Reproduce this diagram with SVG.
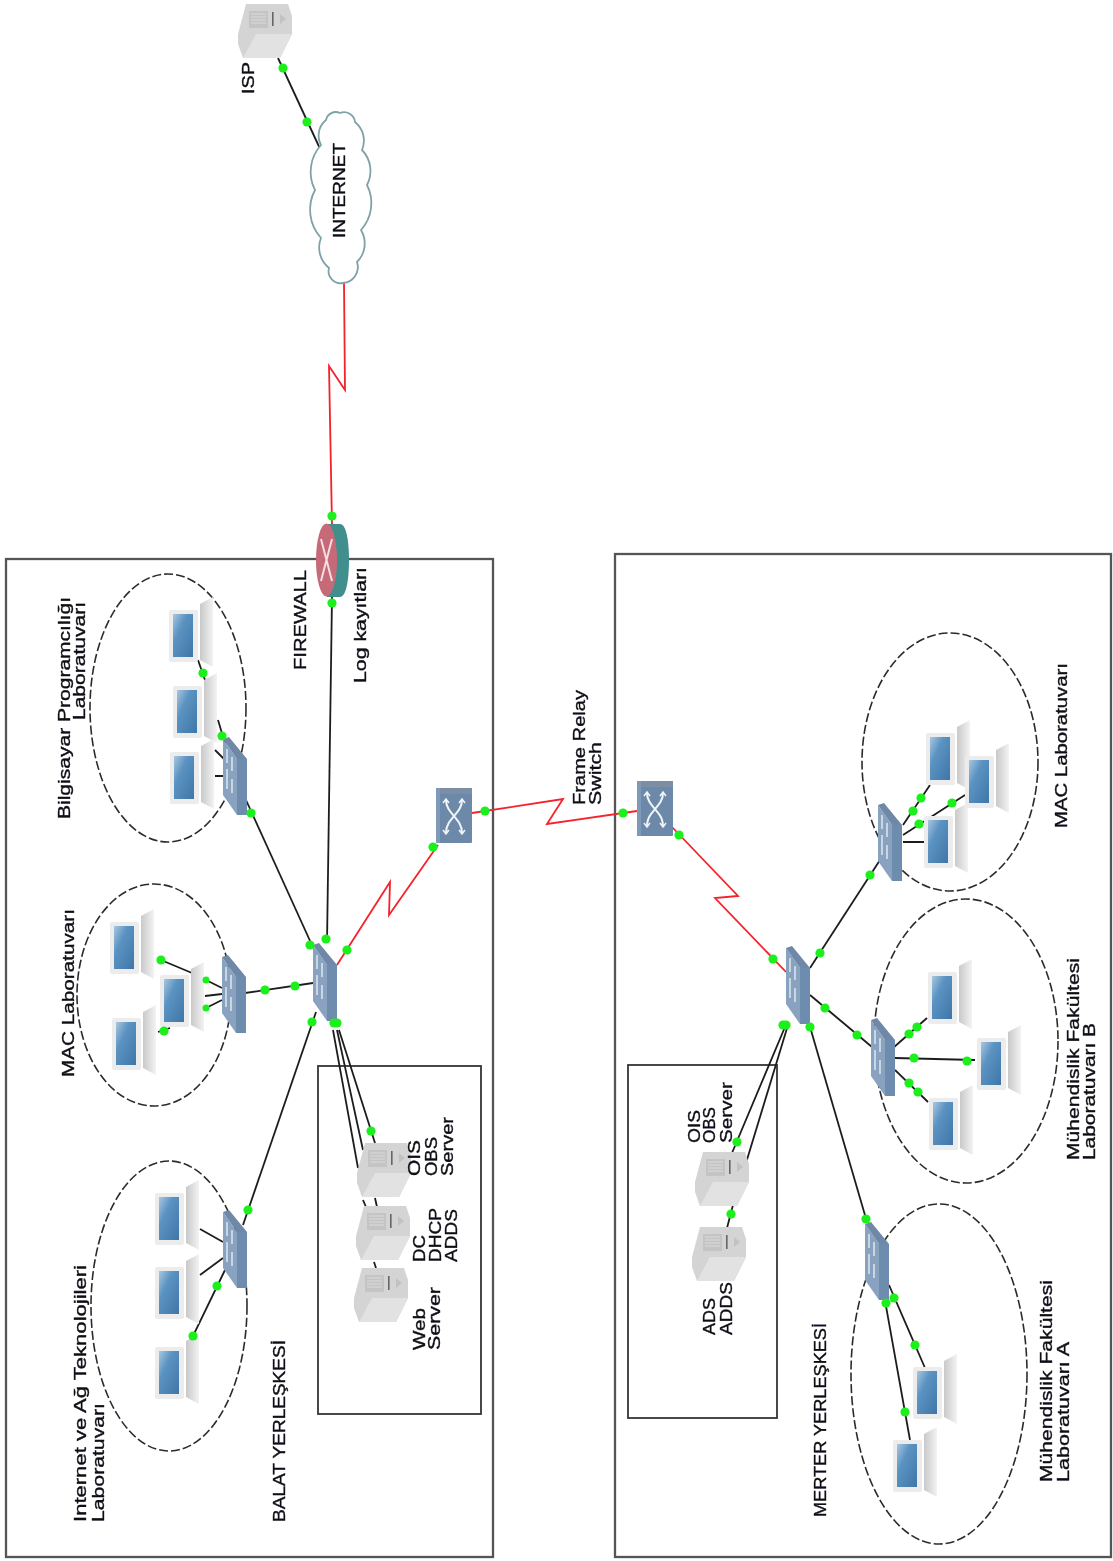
<svg xmlns="http://www.w3.org/2000/svg" xmlns:xlink="http://www.w3.org/1999/xlink" width="1113" height="1561" viewBox="0 0 1113 1561">
<style>
text{font-family:"Liberation Sans",Arial,sans-serif;font-size:16.5px;fill:#0c0c14;stroke:#0c0c14;stroke-width:.35}
.box{fill:none;stroke:#555;stroke-width:2.3}
.inner{fill:none;stroke:#333;stroke-width:1.8}
.zone{fill:none;stroke:#2c2c2c;stroke-width:1.6;stroke-dasharray:9 3}
.k{fill:none;stroke:#1f1f1f;stroke-width:1.8}
.r{fill:none;stroke:#f5222a;stroke-width:1.8;stroke-linejoin:miter}
.d{fill:#1cf01c}
</style>
<defs>
<filter id="soft" x="-1%" y="-1%" width="102%" height="102%"><feGaussianBlur stdDeviation="0.5"/></filter>
<linearGradient id="scr" x1="0" y1="0" x2="1" y2="1"><stop offset="0" stop-color="#a9c7e0"/><stop offset=".35" stop-color="#5b93c2"/><stop offset="1" stop-color="#3f76a8"/></linearGradient>
<linearGradient id="side" x1="0" y1="0" x2="1" y2="0"><stop offset="0" stop-color="#c9c9c9"/><stop offset="1" stop-color="#f3f3f3"/></linearGradient>
<g id="pc">
<polygon points="31,-6 44,-13 44,57 31,50" fill="url(#side)"/>
<rect x="0" y="0" width="29" height="52" rx="2" fill="#ececec"/>
<rect x="4" y="4" width="20" height="43" fill="url(#scr)"/>
</g>
<g id="sw">
<polygon points="0,2 14,22 14,78 0,58" fill="#88a2c0"/>
<polygon points="0,2 6,0 24,22 14,22" fill="#6f88a8"/>
<rect x="14" y="22" width="10" height="56" fill="#6d8cae"/>
<path d="M4 12V26M9 20V34M4 32V46M9 42V56M4 44V52" stroke="#e4ebf3" stroke-width="1.4" fill="none"/>
</g>
<g id="srv">
<polygon points="8,0 50,0 54,12 54,30 42,54 5,54 0,40 0,30" fill="#d4d4d4"/>
<polygon points="18,30 54,30 42,54 5,54" fill="#e2e2e2"/>
<rect x="11" y="7" width="19" height="17" fill="#c4c4c4"/>
<path d="M13 10H28M13 13H28M13 16H28M13 19H28" stroke="#dcdcdc" stroke-width="1"/>
<rect x="34" y="8" width="1.6" height="14" fill="#666"/>
<polygon points="42,10 48,15 42,20" fill="#c2c2c2"/>
</g>
<g id="fr">
<rect x="0" y="0" width="36" height="55" rx="1" fill="#6c89a9"/>
<rect x="0" y="0" width="36" height="6" fill="#7c8ea3"/>
<rect x="0" y="0" width="4" height="55" fill="#7f9ab8"/>
<path d="M10 12C10 26 26 30 26 45M26 12C26 26 10 30 10 45" stroke="#f2f5f8" stroke-width="2" fill="none"/>
<path d="M7 15L10 11L13 15M23 15L26 11L29 15M7 42L10 46L13 42M23 42L26 46L29 42" stroke="#f2f5f8" stroke-width="1.5" fill="none"/>
</g>
</defs>
<rect width="1113" height="1561" fill="#fff"/>
<g id="diagram" filter="url(#soft)">
<g id="zones">
<rect class="box" x="6" y="559" width="487" height="998"/>
<rect class="box" x="615" y="554" width="496" height="1003"/>
<rect class="inner" x="318" y="1066" width="163" height="348"/>
<rect class="inner" x="628" y="1065" width="149" height="353"/>
<ellipse class="zone" cx="168" cy="708" rx="78" ry="134"/>
<ellipse class="zone" cx="154" cy="995" rx="77" ry="111"/>
<ellipse class="zone" cx="169" cy="1306" rx="78" ry="145"/>
<ellipse class="zone" cx="950" cy="762" rx="88" ry="129"/>
<ellipse class="zone" cx="966" cy="1041" rx="92" ry="142"/>
<ellipse class="zone" cx="939" cy="1374" rx="88" ry="170"/>
</g>

<g id="connectors">
<path class="k" d="M278 58L322 153"/>
<path class="r" d="M344 282L345 390L329 366L332 525"/>
<path class="k" d="M332 597L327 943"/>
<path class="k" d="M246 800L311 943"/>
<path class="k" d="M245 993L313 983"/>
<path class="k" d="M243 1225L316 1012"/>
<path class="r" d="M337 965L390 882L389 915L438 845"/>
<path class="k" d="M333 1030L358 1168M337 1030L363 1150M339 1030L375 1143M363 1200L366 1207M375 1198L377 1207M374 1262L376 1268"/>
<path class="r" d="M472 813L563 799L547 824L637 811"/>
<path class="r" d="M672 827L738 896L715 898L786 972"/>
<path class="k" d="M810 968L880 860"/>
<path class="k" d="M810 995L872 1047"/>
<path class="k" d="M785 1027L732 1153M788 1025L746 1163M733 1205L727 1228"/>
<path class="k" d="M808 1020L867 1222"/>
<path class="k" d="M889 1285L925 1368M884 1295L910 1440"/>
<path class="k" d="M903 825L930 785M903 835L965 795M903 842L925 842"/>
<path class="k" d="M893 1048L927 1018M895 1058L975 1060M895 1070L928 1102"/>
<path class="k" d="M198 660L205 680M218 720L230 760M215 750L225 760M215 776L225 776"/>
<path class="k" d="M161 960L192 973M158 1032L170 1028M206 980L222 988M206 1008L222 1000M205 996L222 994"/>
<path class="k" d="M200 1229L223 1242M200 1275L223 1258M193 1336L225 1270"/>
</g>

<g id="isp"><use href="#srv" x="238" y="4"/></g>
<g id="internet"><path d="M340 113A11 11 0 0 1 355 122A24 24 0 0 1 362 150A30 30 0 0 1 367 185A40 40 0 0 1 361 230A26 26 0 0 1 357 262A16 16 0 0 1 343 283A12 12 0 0 1 329 268A26 26 0 0 1 321 238A42 42 0 0 1 315 190A40 40 0 0 1 321 145A20 20 0 0 1 326 120A10 10 0 0 1 340 113Z" fill="#fff" stroke="#7fa2a8" stroke-width="1.8"/></g>
<g id="firewall">
<path d="M327 524H340C346 524 349 540 349 560C349 580 346 597 340 597H327Z" fill="#3f8f8d"/>
<ellipse cx="326.5" cy="560" rx="10.5" ry="36.5" fill="#c76b78"/>
<path d="M321 539L332 581M332 539L321 581" stroke="#f1dfe2" stroke-width="2" fill="none"/>
</g>
<g id="sw-balat-main"><use href="#sw" x="313" y="943"/></g>
<g id="sw-lab1"><use href="#sw" x="223" y="737"/></g>
<g id="sw-lab2"><use href="#sw" x="222" y="955"/></g>
<g id="sw-lab3"><use href="#sw" x="223" y="1210"/></g>
<g id="sw-merter-main"><use href="#sw" x="786" y="946"/></g>
<g id="sw-mac"><use href="#sw" x="878" y="803"/></g>
<g id="sw-b"><use href="#sw" x="871" y="1018"/></g>
<g id="sw-a"><use href="#sw" x="865" y="1222"/></g>
<g id="fr-balat"><use href="#fr" x="436" y="788"/></g>
<g id="fr-merter"><use href="#fr" x="637" y="781"/></g>
<g id="srv-ois-b"><use href="#srv" x="357" y="1143"/></g>
<g id="srv-dc-b"><use href="#srv" x="356" y="1206"/></g>
<g id="srv-web-b"><use href="#srv" x="354" y="1268"/></g>
<g id="srv-ois-m"><use href="#srv" x="695" y="1152"/></g>
<g id="srv-ads-m"><use href="#srv" x="692" y="1227"/></g>
<g id="pc1"><use href="#pc" x="169" y="610"/></g>
<g id="pc2"><use href="#pc" x="173" y="686"/></g>
<g id="pc3"><use href="#pc" x="170" y="752"/></g>
<g id="pc4"><use href="#pc" x="110" y="922"/></g>
<g id="pc5"><use href="#pc" x="112" y="1018"/></g>
<g id="pc6"><use href="#pc" x="160" y="975"/></g>
<g id="pc7"><use href="#pc" x="155" y="1193"/></g>
<g id="pc8"><use href="#pc" x="155" y="1267"/></g>
<g id="pc9"><use href="#pc" x="155" y="1347"/></g>
<g id="pc10"><use href="#pc" x="913" y="1367"/></g>
<g id="pc11"><use href="#pc" x="893" y="1440"/></g>
<g id="pc12"><use href="#pc" x="926" y="733"/></g>
<g id="pc13"><use href="#pc" x="924" y="816"/></g>
<g id="pc14"><use href="#pc" x="965" y="756"/></g>
<g id="pc15"><use href="#pc" x="928" y="972"/></g>
<g id="pc16"><use href="#pc" x="977" y="1038"/></g>
<g id="pc17"><use href="#pc" x="929" y="1098"/></g>

<g id="ports" class="d">
<circle cx="283" cy="68" r="4.6"/><circle cx="307" cy="122" r="4.6"/>
<circle cx="332" cy="516" r="4.6"/><circle cx="332" cy="603" r="4.6"/>
<circle cx="326" cy="939" r="4.6"/><circle cx="251" cy="813" r="4.6"/><circle cx="310" cy="945" r="4.6"/>
<circle cx="265" cy="990" r="4.6"/><circle cx="295" cy="986" r="4.6"/>
<circle cx="248" cy="1210" r="4.6"/><circle cx="312" cy="1022" r="4.6"/>
<circle cx="347" cy="950" r="4.6"/><circle cx="433" cy="847" r="4.6"/>
<circle cx="334" cy="1023" r="4.6"/><circle cx="337" cy="1023" r="4.6"/><circle cx="371" cy="1131" r="4.6"/>
<circle cx="485" cy="811" r="4.6"/><circle cx="623" cy="813" r="4.6"/>
<circle cx="679" cy="835" r="4.6"/><circle cx="773" cy="959" r="4.6"/>
<circle cx="820" cy="953" r="4.6"/><circle cx="870" cy="875" r="4.6"/>
<circle cx="825" cy="1008" r="4.6"/><circle cx="857" cy="1035" r="4.6"/>
<circle cx="783" cy="1025" r="4.6"/><circle cx="786" cy="1025" r="4.6"/><circle cx="737" cy="1142" r="4.6"/><circle cx="731" cy="1214" r="4.6"/>
<circle cx="810" cy="1027" r="4.6"/><circle cx="866" cy="1219" r="4.6"/>
<circle cx="894" cy="1298" r="4.6"/><circle cx="915" cy="1345" r="4.6"/><circle cx="886" cy="1303" r="4.6"/><circle cx="905" cy="1412" r="4.6"/>
<circle cx="921" cy="798" r="4.6"/><circle cx="913" cy="811" r="4.6"/><circle cx="919" cy="824" r="4.6"/><circle cx="952" cy="803" r="4.6"/>
<circle cx="909" cy="1034" r="4.6"/><circle cx="917" cy="1027" r="4.6"/><circle cx="914" cy="1058" r="4.6"/><circle cx="967" cy="1061" r="4.6"/><circle cx="909" cy="1083" r="4.6"/><circle cx="918" cy="1092" r="4.6"/>
<circle cx="203" cy="673" r="4.6"/><circle cx="222" cy="736" r="4.6"/>
<circle cx="161" cy="960" r="4.6"/><circle cx="164" cy="1031" r="4.6"/><circle cx="206" cy="980" r="3.5"/><circle cx="206" cy="1008" r="3.5"/>
<circle cx="217" cy="1286" r="4.6"/><circle cx="193" cy="1336" r="4.6"/>
</g>

<g id="labels">
<text transform="translate(254,94) rotate(-90)" textLength="32" lengthAdjust="spacingAndGlyphs">ISP</text>
<text transform="translate(345,238) rotate(-90)" textLength="95" lengthAdjust="spacingAndGlyphs">INTERNET</text>
<text transform="translate(306,670) rotate(-90)" textLength="100" lengthAdjust="spacingAndGlyphs">FIREWALL</text>
<text transform="translate(366,683) rotate(-90)" textLength="116" lengthAdjust="spacingAndGlyphs">Log kayıtları</text>
<text transform="translate(70,819) rotate(-90)" textLength="222" lengthAdjust="spacingAndGlyphs">Bilgisayar Programcılığı</text>
<text transform="translate(85,720) rotate(-90)" textLength="118" lengthAdjust="spacingAndGlyphs">Laboratuvarı</text>
<text transform="translate(74,1077) rotate(-90)" textLength="168" lengthAdjust="spacingAndGlyphs">MAC Laboratuvarı</text>
<text transform="translate(86,1522) rotate(-90)" textLength="257" lengthAdjust="spacingAndGlyphs">Internet ve Ağ Teknolojileri</text>
<text transform="translate(104,1522) rotate(-90)" textLength="119" lengthAdjust="spacingAndGlyphs">Laboratuvarı</text>
<text transform="translate(285,1522) rotate(-90)" textLength="182" lengthAdjust="spacingAndGlyphs">BALAT YERLEŞKESİ</text>
<text transform="translate(420,1176) rotate(-90)" textLength="36" lengthAdjust="spacingAndGlyphs">OIS</text>
<text transform="translate(437,1176) rotate(-90)" textLength="39" lengthAdjust="spacingAndGlyphs">OBS</text>
<text transform="translate(453,1176) rotate(-90)" textLength="59" lengthAdjust="spacingAndGlyphs">Server</text>
<text transform="translate(425,1262) rotate(-90)" textLength="27" lengthAdjust="spacingAndGlyphs">DC</text>
<text transform="translate(441,1262) rotate(-90)" textLength="54" lengthAdjust="spacingAndGlyphs">DHCP</text>
<text transform="translate(457,1262) rotate(-90)" textLength="53" lengthAdjust="spacingAndGlyphs">ADDS</text>
<text transform="translate(425,1350) rotate(-90)" textLength="42" lengthAdjust="spacingAndGlyphs">Web</text>
<text transform="translate(440,1350) rotate(-90)" textLength="63" lengthAdjust="spacingAndGlyphs">Server</text>
<text transform="translate(585,805) rotate(-90)" textLength="115" lengthAdjust="spacingAndGlyphs">Frame Relay</text>
<text transform="translate(601,805) rotate(-90)" textLength="63" lengthAdjust="spacingAndGlyphs">Switch</text>
<text transform="translate(700,1143) rotate(-90)" textLength="33" lengthAdjust="spacingAndGlyphs">OIS</text>
<text transform="translate(715,1143) rotate(-90)" textLength="36" lengthAdjust="spacingAndGlyphs">OBS</text>
<text transform="translate(732,1143) rotate(-90)" textLength="61" lengthAdjust="spacingAndGlyphs">Server</text>
<text transform="translate(715,1335) rotate(-90)" textLength="37" lengthAdjust="spacingAndGlyphs">ADS</text>
<text transform="translate(732,1335) rotate(-90)" textLength="53" lengthAdjust="spacingAndGlyphs">ADDS</text>
<text transform="translate(826,1517) rotate(-90)" textLength="194" lengthAdjust="spacingAndGlyphs">MERTER YERLEŞKESİ</text>
<text transform="translate(1052,1482) rotate(-90)" textLength="202" lengthAdjust="spacingAndGlyphs">Mühendislik Fakültesi</text>
<text transform="translate(1069,1482) rotate(-90)" textLength="140" lengthAdjust="spacingAndGlyphs">Laboratuvarı A</text>
<text transform="translate(1067,828) rotate(-90)" textLength="165" lengthAdjust="spacingAndGlyphs">MAC Laboratuvarı</text>
<text transform="translate(1079,1160) rotate(-90)" textLength="202" lengthAdjust="spacingAndGlyphs">Mühendislik Fakültesi</text>
<text transform="translate(1095,1160) rotate(-90)" textLength="137" lengthAdjust="spacingAndGlyphs">Laboratuvarı B</text>
</g>
</g>
</svg>
